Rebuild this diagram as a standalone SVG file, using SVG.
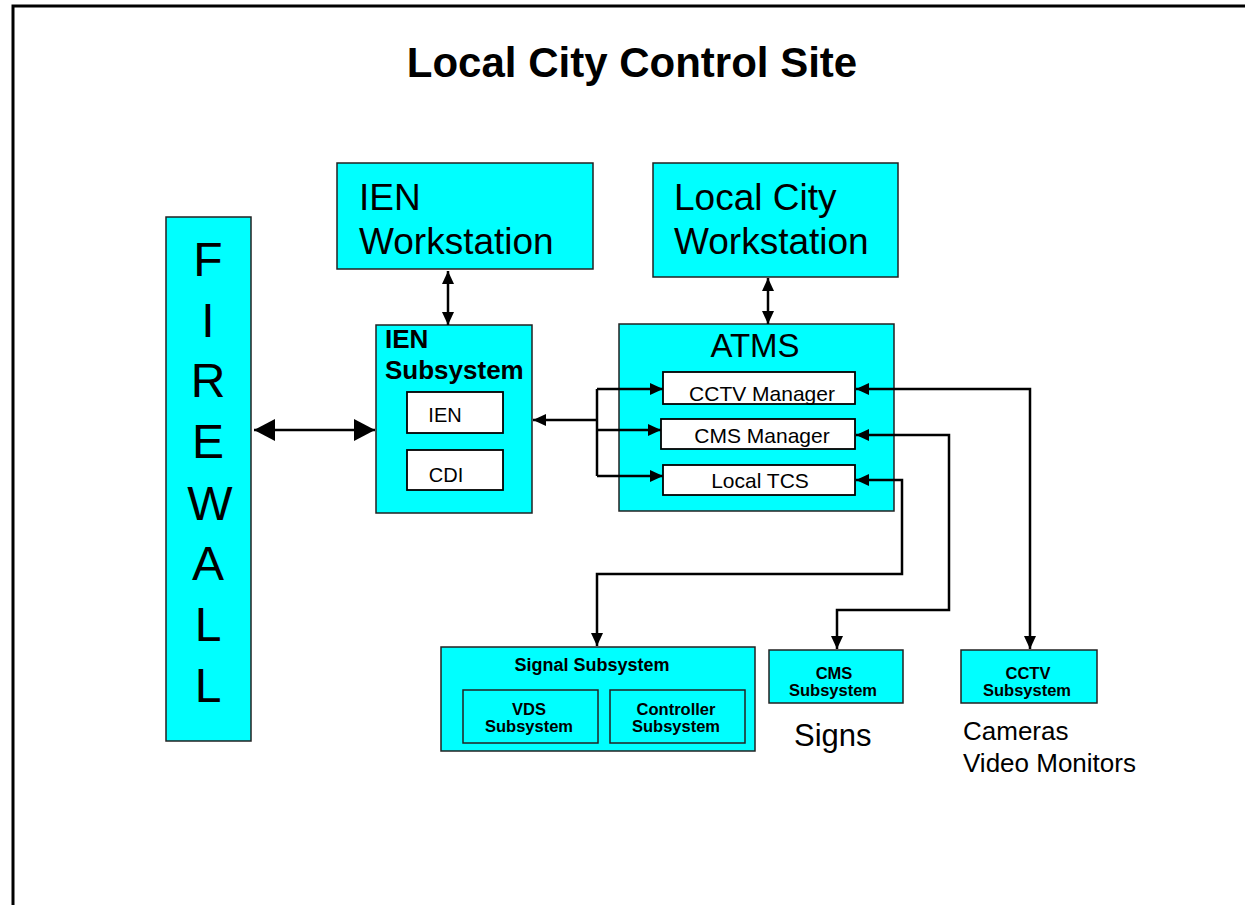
<svg xmlns="http://www.w3.org/2000/svg" width="1245" height="905" viewBox="0 0 1245 905">
<style>
.box{fill:#00ffff;stroke:#222;stroke-width:1.5}
.wbox{fill:#ffffff;stroke:#000;stroke-width:1.8}
.t{font-family:"Liberation Sans",Arial,sans-serif;fill:#000}
.b{font-weight:bold}
.s{font-size:16.5px}
.c{stroke:#000;stroke-width:2.5;fill:none}
</style>
<defs>
<marker id="ah" markerUnits="userSpaceOnUse" markerWidth="14" markerHeight="12" refX="13" refY="6" orient="auto-start-reverse">
<path d="M0,0 L13,6 L0,12 z" fill="#000"/>
</marker>
<marker id="ahBig" markerUnits="userSpaceOnUse" markerWidth="22" markerHeight="22" refX="21" refY="11" orient="auto-start-reverse">
<path d="M0,0 L21,11 L0,22 z" fill="#000"/>
</marker>
</defs>
<rect x="0" y="0" width="1245" height="905" fill="#fff"/>
<path d="M13,1000 L13,6 L1300,6" fill="none" stroke="#000" stroke-width="3"/>
<text class="t b" x="632" y="77" font-size="42" text-anchor="middle">Local City Control Site</text>

<g id="firewall">
<rect class="box" x="166" y="217" width="85" height="524"/>
<g class="t" font-size="48" text-anchor="middle">
<text x="208" y="276">F</text>
<text x="208" y="337">I</text>
<text x="208" y="397">R</text>
<text x="208" y="458">E</text>
<text x="210" y="520">W</text>
<text x="208" y="580">A</text>
<text x="208" y="641">L</text>
<text x="208" y="702">L</text>
</g>
</g>

<g id="ien-workstation">
<rect class="box" x="337" y="163" width="256" height="106"/>
<text class="t" x="359" y="210" font-size="37">IEN</text>
<text class="t" x="359" y="254" font-size="37">Workstation</text>
</g>

<g id="local-city-workstation">
<rect class="box" x="653" y="163" width="245" height="114"/>
<text class="t" x="674" y="210" font-size="37">Local City</text>
<text class="t" x="674" y="254" font-size="37">Workstation</text>
</g>

<g id="ien-subsystem">
<rect class="box" x="376" y="325" width="156" height="188"/>
<text class="t b" x="385" y="348" font-size="26">IEN</text>
<text class="t b" x="385" y="379" font-size="26">Subsystem</text>
</g>
<g id="ien">
<rect class="wbox" x="407" y="392" width="96" height="41"/>
<text class="t" x="445" y="422" font-size="20" text-anchor="middle">IEN</text>
</g>
<g id="cdi">
<rect class="wbox" x="407" y="450" width="96" height="40"/>
<text class="t" x="446" y="482" font-size="20" text-anchor="middle">CDI</text>
</g>

<g id="atms">
<rect class="box" x="619" y="324" width="275" height="187"/>
<text class="t" x="755" y="357" font-size="33" text-anchor="middle">ATMS</text>
</g>
<g id="cctv-manager">
<rect class="wbox" x="663" y="372" width="192" height="32"/>
<text class="t" x="762" y="401" font-size="21" text-anchor="middle">CCTV Manager</text>
</g>
<g id="cms-manager">
<rect class="wbox" x="661" y="419" width="194" height="30"/>
<text class="t" x="762" y="443" font-size="21" text-anchor="middle">CMS Manager</text>
</g>
<g id="local-tcs">
<rect class="wbox" x="663" y="465" width="192" height="30"/>
<text class="t" x="760" y="488" font-size="21" text-anchor="middle">Local TCS</text>
</g>

<g id="signal-subsystem">
<rect class="box" x="441" y="647" width="314" height="104"/>
<text class="t b" x="592" y="671" font-size="18" text-anchor="middle">Signal Subsystem</text>
</g>
<g id="vds-subsystem">
<rect class="box" x="463" y="690" width="135" height="53"/>
<text class="t b s" x="529" y="715" text-anchor="middle">VDS</text>
<text class="t b s" x="529" y="732" text-anchor="middle">Subsystem</text>
</g>
<g id="controller-subsystem">
<rect class="box" x="610" y="690" width="135" height="53"/>
<text class="t b s" x="676" y="715" text-anchor="middle">Controller</text>
<text class="t b s" x="676" y="732" text-anchor="middle">Subsystem</text>
</g>

<g id="cms-subsystem">
<rect class="box" x="769" y="650" width="134" height="53"/>
<text class="t b s" x="834" y="679" text-anchor="middle">CMS</text>
<text class="t b s" x="833" y="696" text-anchor="middle">Subsystem</text>
<text class="t" x="794" y="746" font-size="31">Signs</text>
</g>

<g id="cctv-subsystem">
<rect class="box" x="961" y="650" width="136" height="53"/>
<text class="t b s" x="1028" y="679" text-anchor="middle">CCTV</text>
<text class="t b s" x="1027" y="696" text-anchor="middle">Subsystem</text>
<text class="t" x="963" y="740" font-size="26">Cameras</text>
<text class="t" x="963" y="772" font-size="26">Video Monitors</text>
</g>

<g id="connectors">
<line class="c" x1="254" y1="430" x2="375" y2="430" marker-start="url(#ahBig)" marker-end="url(#ahBig)"/>
<line class="c" x1="448" y1="271" x2="448" y2="325" marker-start="url(#ah)" marker-end="url(#ah)"/>
<line class="c" x1="768" y1="278" x2="768" y2="324" marker-start="url(#ah)" marker-end="url(#ah)"/>
<line class="c" x1="533" y1="420" x2="597" y2="420" marker-start="url(#ah)"/>
<path class="c" d="M597,389 L597,476"/>
<line class="c" x1="597" y1="389" x2="663" y2="389" marker-end="url(#ah)"/>
<line class="c" x1="597" y1="430" x2="661" y2="430" marker-end="url(#ah)"/>
<line class="c" x1="597" y1="476" x2="663" y2="476" marker-end="url(#ah)"/>
<path class="c" d="M856,389 L1030,389 L1030,649" marker-start="url(#ah)" marker-end="url(#ah)"/>
<path class="c" d="M856,435 L949,435 L949,610 L837,610 L837,649" marker-start="url(#ah)" marker-end="url(#ah)"/>
<path class="c" d="M856,480 L902,480 L902,574 L597,574 L597,646" marker-start="url(#ah)" marker-end="url(#ah)"/>
</g>
</svg>
